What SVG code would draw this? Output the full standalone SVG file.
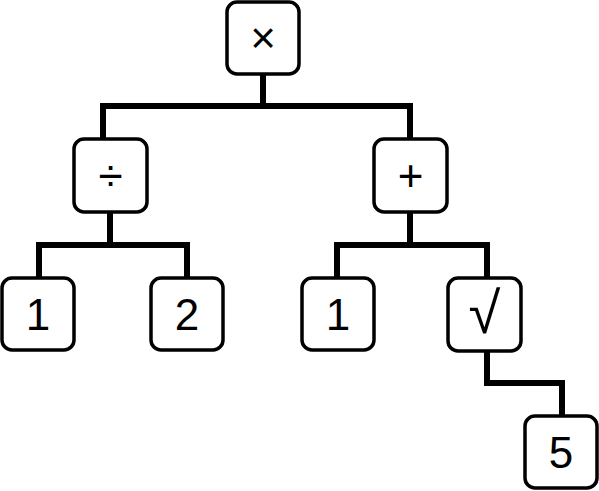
<svg xmlns="http://www.w3.org/2000/svg" width="599" height="491" viewBox="0 0 599 491">
<style>
.box{fill:#fff;stroke:#000;stroke-width:3.5}
.t{font-family:"Liberation Sans",Arial,sans-serif;font-size:44px;text-anchor:middle;fill:#000}
.s{font-family:"Liberation Sans",Arial,sans-serif;font-size:58px;text-anchor:middle;fill:#000}
.c{fill:none;stroke:#000;stroke-width:6;stroke-linejoin:miter;stroke-linecap:butt}
</style>
<rect width="599" height="491" fill="#fff"/>
<g id="connectors">
<path class="c" d="M263,74 V106"/>
<path class="c" d="M103,140 V106 H410 V140"/>
<path class="c" d="M110,212 V245"/>
<path class="c" d="M39,278 V245 H187 V278"/>
<path class="c" d="M410,211 V245"/>
<path class="c" d="M337,278 V245 H487 V278"/>
<path class="c" d="M487,351 V383 H562 V416"/>
</g>
<g id="n-times"><rect class="box" x="227" y="2" width="72" height="72" rx="10"/><text class="t" x="263" y="53">×</text></g>
<g id="n-div"><rect class="box" x="74" y="139" width="73" height="73" rx="10"/><text class="t" x="110.5" y="191">÷</text></g>
<g id="n-plus"><rect class="box" x="374" y="139" width="73" height="73" rx="10"/><text class="t" x="410.5" y="191">+</text></g>
<g id="n-1a"><rect class="box" x="2" y="278" width="72" height="72" rx="10"/><text class="t" x="38" y="330">1</text></g>
<g id="n-2"><rect class="box" x="151" y="278" width="72" height="72" rx="10"/><text class="t" x="187" y="330">2</text></g>
<g id="n-1b"><rect class="box" x="302" y="278" width="72" height="72" rx="10"/><text class="t" x="338" y="330">1</text></g>
<g id="n-sqrt"><rect class="box" x="448" y="278" width="73" height="73" rx="10"/><text class="s" x="484.5" y="333">√</text></g>
<g id="n-5"><rect class="box" x="525" y="416" width="72" height="72" rx="10"/><text class="t" x="561" y="468">5</text></g>
</svg>
